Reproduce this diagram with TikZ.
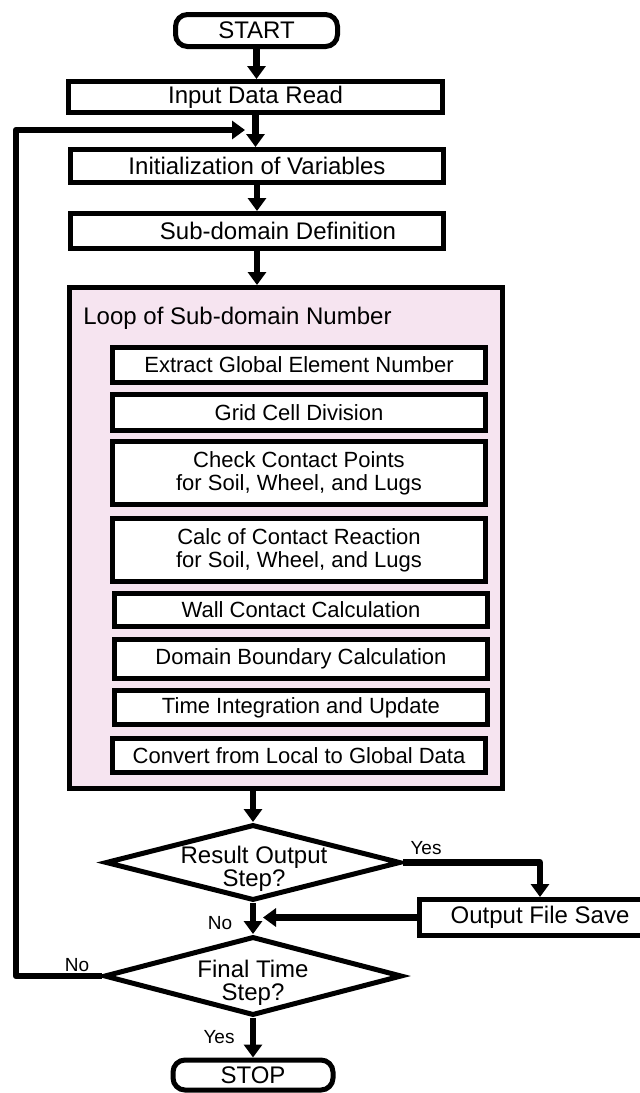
\documentclass[tikz,border=0pt]{standalone}
\usepackage{fontspec}
\setmainfont{Liberation Sans}
\usetikzlibrary{shapes.geometric,arrows.meta,calc}
\definecolor{loopfill}{RGB}{246,228,240}
\begin{document}
\begin{tikzpicture}[x=0.5pt,y=-0.5pt,
  box/.style={draw, line width=2.5pt, fill=white, inner sep=0pt, align=center, font=\fontsize{12}{13}\selectfont},
  ibox/.style={box, minimum width=186.5pt, font=\fontsize{11}{11.5}\selectfont},
  term/.style={box, rounded corners=6pt},
  dec/.style={draw, line width=2.5pt, shape=diamond, inner sep=0pt},
  dtext/.style={align=center, font=\fontsize{12}{11.5}\selectfont, inner sep=0pt},
  lbl/.style={font=\fontsize{9.5}{10}\selectfont, inner sep=0pt},
  conn/.style={line width=3.25pt, line join=round, -{Triangle[width=9pt,length=6.5pt]}}
]
\useasboundingbox (0,0) rectangle (640,1093);
\clip (0,0) rectangle (640,1093);

% terminals and top boxes
\node[term, minimum width=81pt, minimum height=16pt] (start) at (256.5,30.5) {START};
\node[box, minimum width=187pt, minimum height=15.5pt] (input) at (255.5,97) {Input Data Read};
\node[box, minimum width=186.5pt, minimum height=16.5pt] (init) at (257,166) {Initialization of Variables};
\node[box, minimum width=186.5pt, minimum height=17.5pt] (sub) at (257,231) {\hspace*{21pt}Sub-domain Definition};

% loop container
\node[box, fill=loopfill, minimum width=216.5pt, minimum height=250.5pt] (loop) at (286,538) {};
\node[font=\fontsize{12}{13}\selectfont, inner sep=0pt, anchor=west] (looptitle) at (83,318) {Loop of Sub-domain Number};

% inner boxes
\node[ibox, minimum height=17.5pt] (extract) at (299,365) {Extract Global Element Number};
\node[ibox, minimum height=18pt] (grid) at (299,412.5) {Grid Cell Division};
\node[ibox, minimum height=31.5pt] (check) at (299,473) {Check Contact Points\\for Soil, Wheel, and Lugs};
\node[ibox, minimum height=31.5pt] (calc) at (299,550) {Calc of Contact Reaction\\for Soil, Wheel, and Lugs};
\node[ibox, minimum height=16.5pt] (wall) at (301,610) {Wall Contact Calculation};
\node[ibox, minimum height=19.5pt] (domain) at (301,659) {Domain Boundary Calculation};
\node[ibox, minimum height=17pt] (time) at (301,707.5) {Time Integration and Update};
\node[ibox, minimum height=17pt] (convert) at (299,755.5) {Convert from Local to Global Data};

% decisions
\node[dec, minimum width=147.5pt, minimum height=38pt] (d1) at (253,862.5) {};
\node[dtext] (d1t) at ($(d1)+(1,6)$) {Result Output\\Step?};
\node[dec, minimum width=149pt, minimum height=39.5pt] (d2) at (253,976) {};
\node[dtext] (d2t) at ($(d2)+(0,7)$) {Final Time\\Step?};

\node[box, minimum width=120.5pt, minimum height=18pt] (ofs) at (540,917.5) {Output File Save};
\node[term, minimum width=80pt, minimum height=15pt] (stop) at (253,1075) {STOP};

% helper coordinates
\coordinate (lc) at (16,130);
\coordinate (back) at (245,130);
\coordinate (join) at (263,917.5);

% connectors
\draw[conn] (start.south) -- (start.south |- input.north);
\draw[conn] (input.south) -- (input.south |- init.north);
\draw[conn] (init.south) -- (init.south |- sub.north);
\draw[conn] (sub.south) -- (sub.south |- loop.north);
\draw[conn] (loop.south -| d1.north) -- (d1.north);
\draw[conn] (d1.south) -- (d2.north);
\draw[conn] (d2.south) -- (stop.north);
\draw[conn] (d1.east) -| (ofs.north);
\draw[conn] (ofs.west) -- (join);
\draw[conn] (d2.west) -| (lc) -- (back);

% labels
\node[lbl] (yes1) at (426,848) {Yes};
\node[lbl] (no1) at (220,923) {No};
\node[lbl] (no2) at (77,965) {No};
\node[lbl] (yes2) at (219,1037) {Yes};
\end{tikzpicture}
\end{document}
